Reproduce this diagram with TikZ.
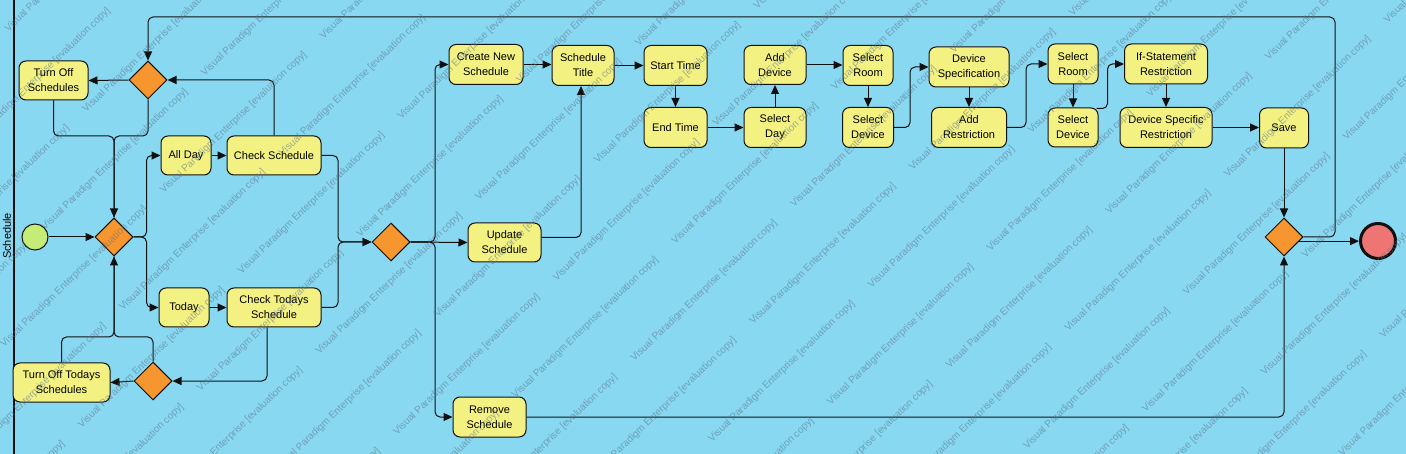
\documentclass[tikz,border=0pt]{standalone}
\usepackage{fontspec}
\setmainfont{Liberation Sans}
\usetikzlibrary{arrows.meta,shapes.geometric}
\definecolor{cLane}{HTML}{88D8F2}
\definecolor{cAct}{HTML}{F3F181}
\definecolor{cDec}{HTML}{F7962F}
\definecolor{cStart}{HTML}{C6EC78}
\definecolor{cEnd}{HTML}{EF7474}
\definecolor{cWm}{HTML}{5A7286}
\definecolor{cLn}{HTML}{101010}
\tikzset{
  actbox/.style={draw=cLn, line width=1pt, fill=cAct, rounded corners=7pt, align=center,
    font=\fontsize{11}{15}\selectfont, inner sep=0pt},
  decbox/.style={draw=cLn, line width=1pt, fill=cDec, diamond, minimum width=38pt,
    minimum height=38pt, inner sep=0pt},
  conn/.style={draw=cLn, line width=1pt, rounded corners=5pt},
  arr/.style={conn, -{Triangle[length=9pt,width=8pt]}},
  wmk/.style={rotate=44, anchor=base west, text=cWm, text opacity=0.55, inner sep=0pt,
    font=\fontsize{10}{12}\selectfont},
}
\begin{document}
\begin{tikzpicture}[x=1pt,y=-1pt]
\useasboundingbox (0,0) rectangle (1406,454);
\fill[cLane] (0,0) rectangle (1406,454);
\draw[cLn, line width=1.2pt] (14,0) -- (14,454);
\node[rotate=90, font=\fontsize{11}{13}\selectfont] (lanelabel) at (7,236) {Schedule};

% nodes
\node[circle, draw=cLn, line width=1pt, fill=cStart, minimum size=26pt, inner sep=0pt] (start) at (35,237) {};
\node[decbox] (DMain) at (114,237) {};
\node[decbox] (DTop) at (148,80) {};
\node[decbox] (DBot) at (153,381) {};
\node[decbox] (DMid) at (391,242) {};
\node[decbox] (DEnd) at (1284,237) {};
\node[circle, draw=cLn, line width=3pt, fill=cEnd, minimum size=35pt, inner sep=0pt] (end) at (1378,241) {};

\node[actbox, minimum width=69pt, minimum height=39pt] (TOS) at (53.5,80.5) {Turn Off\\Schedules};
\node[actbox, minimum width=50pt, minimum height=39pt] (AllDay) at (186,155.5) {All Day};
\node[actbox, minimum width=94pt, minimum height=39pt] (CS) at (274,155.5) {Check Schedule};
\node[actbox, minimum width=50pt, minimum height=39pt] (Today) at (184,307.5) {Today};
\node[actbox, minimum width=94pt, minimum height=39pt] (CTS) at (274,307.5) {Check Todays\\Schedule};
\node[actbox, minimum width=97pt, minimum height=39pt] (TOTS) at (61.5,382.5) {Turn Off Todays\\Schedules};

\node[actbox, minimum width=74pt, minimum height=40pt] (CNS) at (486,64.5) {Create New\\Schedule};
\node[actbox, minimum width=62pt, minimum height=40pt] (ST) at (583,65.5) {Schedule\\Title};
\node[actbox, minimum width=63pt, minimum height=40pt] (StT) at (675.5,65.5) {Start Time};
\node[actbox, minimum width=63pt, minimum height=40pt] (EnT) at (675.5,127.5) {End Time};
\node[actbox, minimum width=73pt, minimum height=39pt] (US) at (504.5,242.5) {Update\\Schedule};
\node[actbox, minimum width=73pt, minimum height=40pt] (RS) at (489.5,417) {Remove\\Schedule};

\node[actbox, minimum width=62pt, minimum height=39pt] (AD) at (775,65) {Add\\Device};
\node[actbox, minimum width=62pt, minimum height=40pt] (SDay) at (775,127.5) {Select\\Day};
\node[actbox, minimum width=50pt, minimum height=40pt] (SR1) at (868,65.5) {Select\\Room};
\node[actbox, minimum width=51pt, minimum height=40pt] (SD1) at (868,127.5) {Select\\Device};
\node[actbox, minimum width=80pt, minimum height=40pt] (DS) at (969,67) {Device\\Specification};
\node[actbox, minimum width=75pt, minimum height=40pt] (AR) at (969,127.5) {Add\\Restriction};
\node[actbox, minimum width=50pt, minimum height=40pt] (SR2) at (1073,64) {Select\\Room};
\node[actbox, minimum width=50pt, minimum height=39pt] (SD2) at (1073,127.5) {Select\\Device};
\node[actbox, minimum width=83pt, minimum height=40pt] (IF) at (1166,64) {If-Statement\\Restriction};
\node[actbox, minimum width=92pt, minimum height=40pt] (DSR) at (1166,127.5) {Device Specific\\Restriction};
\node[actbox, minimum width=49pt, minimum height=40pt] (Save) at (1284,128) {Save};

% helper coordinates
\coordinate (m1) at (114,136);
\coordinate (m2) at (114,337);
\coordinate (m3) at (338,242);
\coordinate (m4) at (435,242);
\coordinate (tl) at (148,17);
\coordinate (tr) at (1335,17);

% connectors
\draw[arr] (start) -- (DMain.west);
\draw[arr] (DTop.west) -- (TOS.east);
\draw[arr] (CS.north) |- (DTop.east);
\draw[arr] (TOS.south) |- (m1) -- (DMain.north);
\draw[conn] (DTop.south) |- (m1) -- (DMain.north);
\draw[arr] (DMain.east) -- ++(13,0) |- (AllDay.west);
\draw[arr] (DMain.east) -- ++(13,0) |- (Today.west);
\draw[arr] (AllDay) -- (CS);
\draw[arr] (Today) -- (CTS);
\draw[arr] ([xshift=-7pt]CTS.south) |- (DBot.east);
\draw[arr] (DBot.west) -- (TOTS.east);
\draw[arr] (TOTS.north) |- (m2) -- (DMain.south);
\draw[conn] (DBot.north) |- (m2) -- (DMain.south);
\draw[arr] (CS.east) -| (m3) -- (DMid.west);
\draw[arr] (CTS.east) -| (m3) -- (DMid.west);
\draw[arr] (DMid.east) -- (m4) |- (CNS.west);
\draw[arr] (DMid.east) -- (US.west);
\draw[arr] (DMid.east) -- (m4) |- (RS.west);
\draw[arr] (CNS.east) -- (CNS.east -| ST.west);
\draw[arr] ([yshift=5pt]US.east) -| ([xshift=-2pt]ST.south);
\draw[arr] (ST) -- (StT);
\draw[arr] (StT) -- (EnT);
\draw[arr] (EnT) -- (SDay);
\draw[arr] (SDay) -- (AD);
\draw[arr] (AD.east) -- (AD.east -| SR1.west);
\draw[arr] (SR1) -- (SD1);
\draw[arr] (SD1.east) -- ++(16,0) |- (DS.west);
\draw[arr] (DS) -- (AR);
\draw[arr] (AR.east) -- ++(19,0) |- (SR2.west);
\draw[arr] (SR2) -- (SD2);
\draw[arr] ([xshift=-2pt,yshift=-1pt]SD2.north east) -- ++(11,0) |- (IF.west);
\draw[arr] (IF) -- (DSR);
\draw[arr] (DSR.east) -- (DSR.east -| Save.west);
\draw[arr] (Save) -- (DEnd.north);
\draw[arr] (RS.east) -| (DEnd.south);
\draw[arr] (DEnd.east) -| (tr) -- (tl) -- (DTop.north);
\draw[arr] (DEnd.-15) -- (DEnd.-15 -| end.west);

% watermark (only copies that reach into the picture)
\begin{scope}
\clip (0,0) rectangle (1406,454);
\foreach \i in {-5,...,7} {
  \foreach \j in {-16,...,12} {
    \pgfmathsetmacro{\wx}{753+\i*159.7+\j*118.7}
    \pgfmathsetmacro{\wy}{325-\i*154.2-\j*36.8}
    \pgfmathtruncatemacro{\wok}{and(and(\wx>-140,\wx<1400),and(\wy>8,\wy<590))}
    \ifnum\wok=1
      \node[wmk] (wm\i\j) at (\wx,\wy) {Visual Paradigm Enterprise [evaluation copy]};
    \fi
  }
}
\end{scope}
\end{tikzpicture}
\end{document}
